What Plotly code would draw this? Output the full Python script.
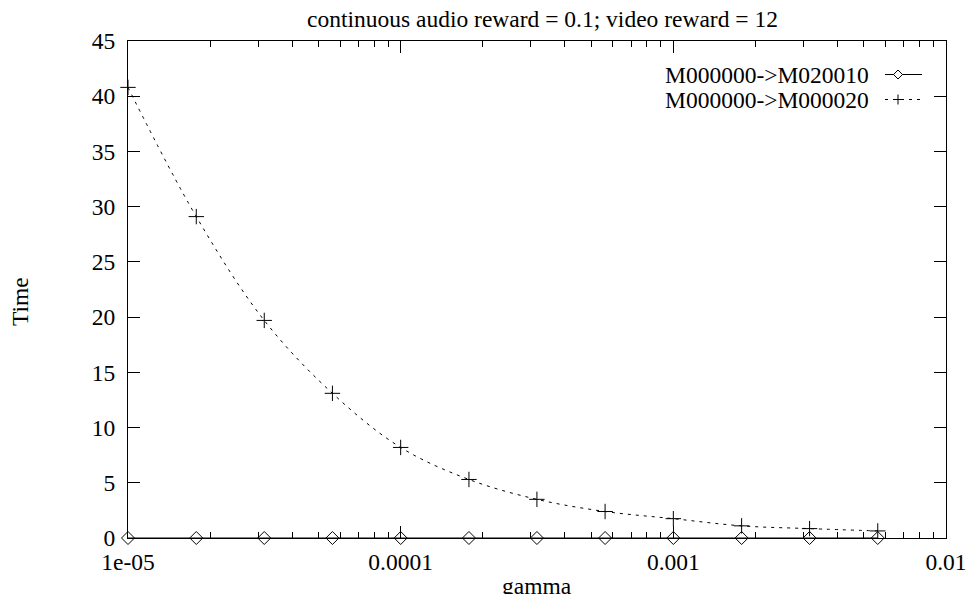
import plotly.graph_objects as go

gamma = [1e-5, 1.78e-5, 3.16e-5, 5.62e-5, 1e-4, 1.78e-4, 3.16e-4, 5.62e-4,
         1e-3, 1.78e-3, 3.16e-3, 5.62e-3]
time_m020010 = [0, 0, 0, 0, 0, 0, 0, 0, 0, 0, 0, 0]
time_m000020 = [40.8, 29.1, 19.7, 13.1, 8.2, 5.3, 3.5, 2.4, 1.75, 1.1, 0.85, 0.64]
series_names = ["M000000->M020010", "M000000->M000020"]
x_tickvals = [1e-5, 1e-4, 1e-3, 1e-2]
x_ticktext = ["1e-05", "0.0001", "0.001", "0.01"]
title_text = "continuous audio reward = 0.1; video reward = 12"

W, H = 968, 594
L, R, T, B = 128, 22, 41, 56
PW, PH = W - L - R, H - T - B
FONT = "Liberation Serif, Times New Roman, Times, serif"
FS = 23.5

def px(x):
    return (x - L) / PW

def py(y):
    return (H - B - y) / PH

fig = go.Figure()
fig.add_trace(go.Scatter(
    x=gamma, y=time_m020010, mode="lines+markers", name=series_names[0],
    line=dict(color="black", width=1),
    marker=dict(symbol="diamond-open", size=10, color="black", line=dict(width=1, color="black")),
    cliponaxis=False, showlegend=False))
fig.add_trace(go.Scatter(
    x=gamma, y=time_m000020, mode="lines+markers", name=series_names[1],
    line=dict(color="black", width=1, dash="3px,5px", shape="spline", smoothing=1.0),
    marker=dict(symbol="cross-thin-open", size=11, color="black", line=dict(width=1, color="black")),
    cliponaxis=False, showlegend=False))

minor_vals = [m * 10 ** e for e in (-5, -4, -3) for m in range(2, 10)]

fig.update_xaxes(
    type="log", range=[-5, -2], tickvals=x_tickvals, ticktext=x_ticktext,
    ticks="inside", ticklen=12, tickcolor="black", tickwidth=1,
    minor=dict(ticks="inside", ticklen=6, tickvals=minor_vals, tickcolor="black", tickwidth=1, showgrid=False),
    showline=True, linecolor="black", linewidth=1, mirror="allticks",
    showgrid=False, zeroline=False, automargin=False, ticklabelstandoff=3,
    tickfont=dict(family=FONT, size=FS, color="black"))
fig.update_yaxes(
    range=[0, 45], dtick=5, tick0=0,
    ticks="inside", ticklen=12, tickcolor="black", tickwidth=1,
    showline=True, linecolor="black", linewidth=1, mirror="allticks",
    showgrid=False, zeroline=False, automargin=False, ticklabelstandoff=7,
    tickfont=dict(family=FONT, size=FS, color="black"))

annotations = [
    dict(text=title_text, x=px(542), y=py(19), xref="paper", yref="paper",
         showarrow=False, xanchor="center", yanchor="middle",
         font=dict(family=FONT, size=FS, color="black")),
    dict(text="gamma", x=px(537), y=py(586), xref="paper", yref="paper",
         showarrow=False, xanchor="center", yanchor="middle",
         font=dict(family=FONT, size=FS, color="black")),
    dict(text="Time", x=px(20), y=py(302), xref="paper", yref="paper",
         showarrow=False, xanchor="center", yanchor="middle", textangle=-90,
         font=dict(family=FONT, size=FS, color="black")),
]
legend_rows = [(75, series_names[0]), (100, series_names[1])]
for yrow, name in legend_rows:
    annotations.append(dict(text=name, x=px(871), y=py(yrow), xref="paper", yref="paper",
                            showarrow=False, xanchor="right", yanchor="middle",
                            font=dict(family=FONT, size=FS, color="black")))

shapes = []
# legend samples
x0, x1, xm = 885, 922, 898
y1r, y2r = 74.5, 99.5
shapes.append(dict(type="line", xref="paper", yref="paper", x0=px(x0), x1=px(x1),
                   y0=py(y1r), y1=py(y1r), line=dict(color="black", width=1)))
shapes.append(dict(type="line", xref="paper", yref="paper", x0=px(x0), x1=px(x1),
                   y0=py(y2r), y1=py(y2r), line=dict(color="black", width=1, dash="3px,5px")))
d = 4.5
shapes.append(dict(type="path", xref="paper", yref="paper",
                   path=f"M {px(xm-d)},{py(y1r)} L {px(xm)},{py(y1r-d)} L {px(xm+d)},{py(y1r)} L {px(xm)},{py(y1r+d)} Z",
                   line=dict(color="black", width=1), fillcolor="white"))
p = 5
shapes.append(dict(type="line", xref="paper", yref="paper", x0=px(xm-p), x1=px(xm+p),
                   y0=py(y2r), y1=py(y2r), line=dict(color="black", width=1)))
shapes.append(dict(type="line", xref="paper", yref="paper", x0=px(xm), x1=px(xm),
                   y0=py(y2r-p), y1=py(y2r+p), line=dict(color="black", width=1)))

fig.update_layout(
    width=W, height=H, margin=dict(l=L, r=R, t=T, b=B, autoexpand=False),
    paper_bgcolor="white", plot_bgcolor="white",
    showlegend=False, annotations=annotations, shapes=shapes,
    font=dict(family=FONT, size=FS, color="black"))

fig.write_html("out.html")
